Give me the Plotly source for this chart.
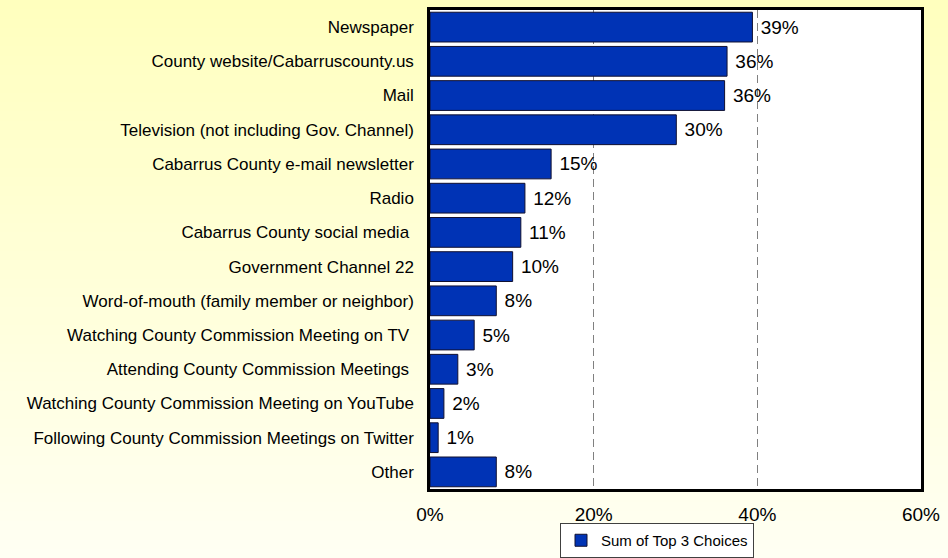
import plotly.graph_objects as go

# Survey: how residents get information about the county (sum of top 3 choices)
categories = [
    "Newspaper",
    "County website/Cabarruscounty.us",
    "Mail",
    "Television (not including Gov. Channel)",
    "Cabarrus County e-mail newsletter",
    "Radio",
    "Cabarrus County social media ",
    "Government Channel 22",
    "Word-of-mouth (family member or neighbor)",
    "Watching County Commission Meeting on TV ",
    "Attending County Commission Meetings ",
    "Watching County Commission Meeting on YouTube",
    "Following County Commission Meetings on Twitter",
    "Other",
]
shares = [0.394, 0.363, 0.360, 0.301, 0.148, 0.116, 0.111, 0.101, 0.081,
          0.054, 0.034, 0.017, 0.010, 0.081]
series_name = "Sum of Top 3 Choices"
x_tick_values = [0.0, 0.2, 0.4, 0.6]
x_tick_labels = ["0%", "20%", "40%", "60%"]

W, H = 948, 558
M_L, M_R, M_T, M_B = 430, 27, 10, 69
PW, PH = W - M_L - M_R, H - M_T - M_B

FONT = "Liberation Sans, Arial, sans-serif"
BAR_BLUE = "#0033B5"


def page_to_paper_y(py):
    return (H - M_B - py) / PH


def page_to_paper_x(px):
    return (px - M_L) / PW


# Vertical yellow-to-cream page background, built from thin strips
shapes = []
n_strips = 60
top_rgb = (255, 255, 190)
bot_rgb = (255, 255, 243)
for i in range(n_strips):
    t = (i + 0.5) / n_strips
    r = round(top_rgb[0] + (bot_rgb[0] - top_rgb[0]) * t)
    g = round(top_rgb[1] + (bot_rgb[1] - top_rgb[1]) * t)
    b = round(top_rgb[2] + (bot_rgb[2] - top_rgb[2]) * t)
    y_top = H * i / n_strips - (5 if i == 0 else 0)
    y_bot = H * (i + 1) / n_strips + (5 if i == n_strips - 1 else 1)
    shapes.append(dict(
        type="rect", xref="paper", yref="paper", layer="below",
        x0=page_to_paper_x(-10), x1=page_to_paper_x(W + 10),
        y0=page_to_paper_y(y_bot), y1=page_to_paper_y(y_top),
        fillcolor=f"rgb({r},{g},{b})", line=dict(width=0),
    ))
# White plotting area on top of the page gradient
shapes.append(dict(
    type="rect", xref="paper", yref="paper", layer="below",
    x0=0, x1=1, y0=0, y1=1, fillcolor="white", line=dict(width=0),
))

fig = go.Figure(go.Bar(
    x=shares,
    y=categories,
    orientation="h",
    name=series_name,
    marker=dict(color=BAR_BLUE, line=dict(color="#101030", width=1)),
    texttemplate=" %{x:.0%}",
    textposition="outside",
    textfont=dict(family=FONT, size=19, color="black"),
    cliponaxis=False,
    hoverinfo="skip",
))

fig.update_layout(
    width=W, height=H,
    margin=dict(l=M_L, r=M_R, t=M_T, b=M_B, pad=0, autoexpand=False),
    paper_bgcolor="rgb(255,255,225)",
    plot_bgcolor="white",
    shapes=shapes,
    bargap=0.13,
    showlegend=True,
    legend=dict(
        orientation="h",
        x=page_to_paper_x(560), xanchor="left",
        y=page_to_paper_y(558), yanchor="bottom",
        bgcolor="white", bordercolor="#404040", borderwidth=1,
        font=dict(family=FONT, size=15, color="black"),
        itemwidth=30,
    ),
    xaxis=dict(
        range=[0, 0.6],
        tickvals=x_tick_values, ticktext=x_tick_labels,
        showgrid=True, gridcolor="#808080", gridwidth=1, griddash="8px,5px",
        zeroline=False,
        showline=True, mirror=True, linecolor="black", linewidth=2.5,
        ticks="outside", ticklen=6, tickcolor="rgba(0,0,0,0)",
        tickfont=dict(family=FONT, size=19, color="black"),
        fixedrange=True,
    ),
    yaxis=dict(
        autorange="reversed",
        showgrid=False, zeroline=False,
        showline=True, mirror=True, linecolor="black", linewidth=2.5,
        ticks="outside", ticklen=10, tickcolor="rgba(0,0,0,0)",
        tickfont=dict(family=FONT, size=17, color="black"),
        fixedrange=True,
    ),
)

fig.write_html("out.html")
